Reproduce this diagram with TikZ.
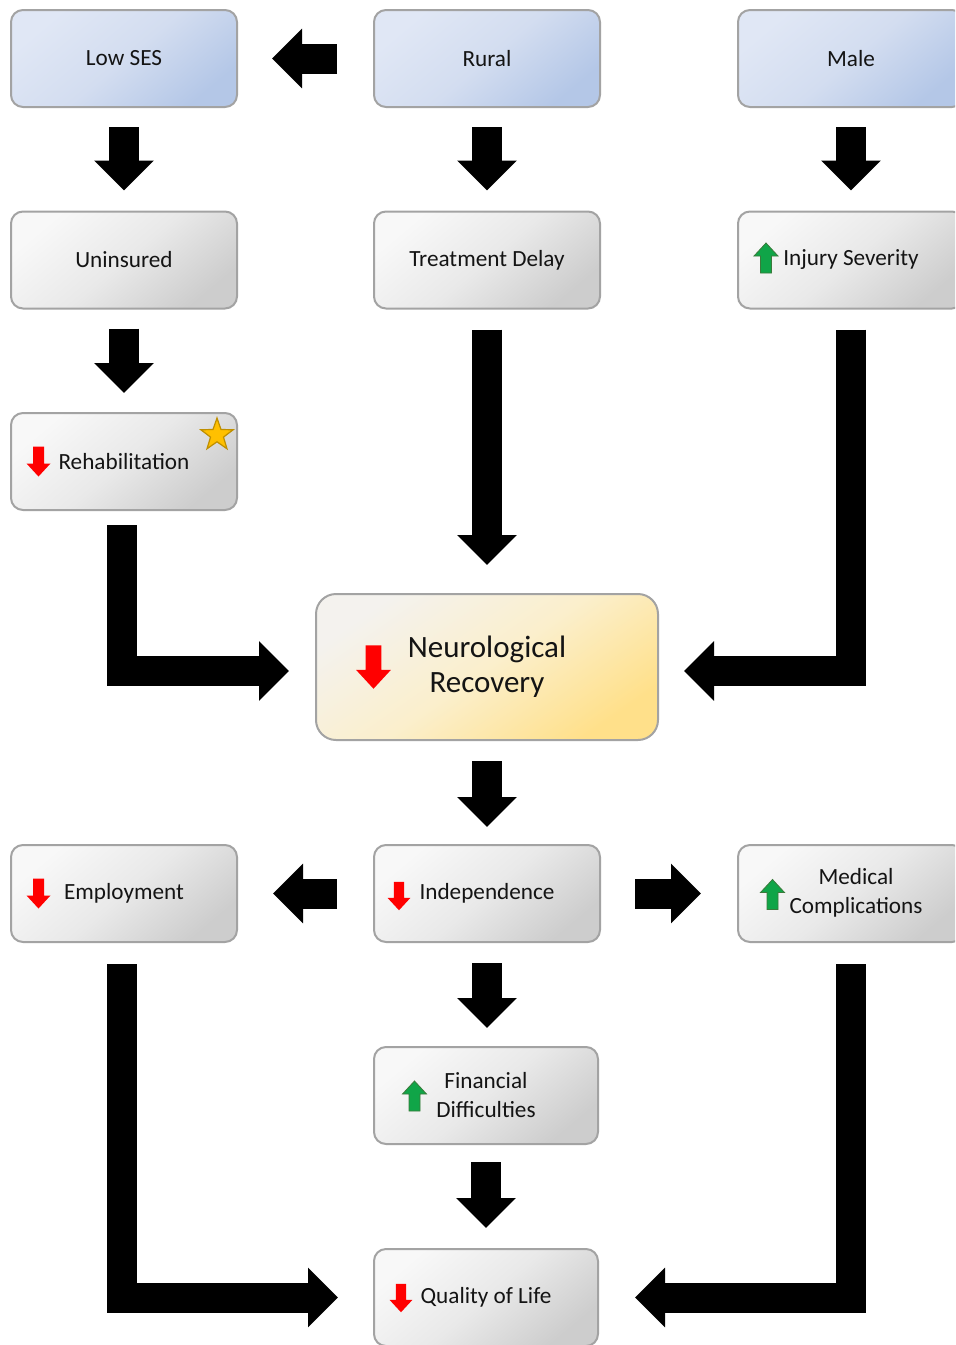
\documentclass[tikz,border=0pt]{standalone}
\usepackage{fontspec}
\setmainfont{Carlito}
\usetikzlibrary{arrows.meta,shapes.geometric,calc}
\definecolor{blueA}{HTML}{E0E7F5}
\definecolor{blueM}{HTML}{D3DDF0}
\definecolor{blueB}{HTML}{B4C7E7}
\definecolor{grayA}{HTML}{F8F8F8}
\definecolor{grayM}{HTML}{E9E9E9}
\definecolor{grayB}{HTML}{CDCDCD}
\definecolor{goldA}{HTML}{F4F2EE}
\definecolor{goldM}{HTML}{FBEFCC}
\definecolor{goldB}{HTML}{FFE08A}
\definecolor{boxline}{HTML}{A3A3A3}
\definecolor{arrred}{HTML}{FF0000}
\definecolor{arrgreen}{HTML}{10A548}
\definecolor{arrgreenline}{HTML}{3B7A3B}
\definecolor{starfill}{HTML}{FFC000}
\definecolor{starline}{HTML}{BF8F00}
\definecolor{txt}{HTML}{141414}
\begin{document}
\begin{tikzpicture}[x=0.5pt,y=-0.5pt,
  box/.style={draw=boxline, line width=1pt, rounded corners=6pt,
    minimum width=113pt, minimum height=48.5pt, inner sep=0pt,
    align=center, text=txt, font=\fontsize{11.6}{14.5}\selectfont,
    top color=grayA, bottom color=grayB, middle color=grayM, shading angle=40},
  bluebox/.style={box, top color=blueA, bottom color=blueB, middle color=blueM, shading angle=40},
  goldbox/.style={box, rounded corners=10pt, minimum width=171pt, minimum height=73pt,
    font=\fontsize{15.5}{17.5}\selectfont,
    top color=goldA, bottom color=goldB, middle color=goldM, shading angle=35},
  blk/.style={line width=15pt, line join=miter, draw=black,
    -{Triangle[length=15pt,width=29pt]}},
  dnarr/.pic={\fill[arrred] (-5.5,-15) -- (5.5,-15) -- (5.5,2) -- (12,2) -- (0,15) -- (-12,2) -- (-5.5,2) -- cycle;},
  uparr/.pic={\filldraw[fill=arrgreen, draw=arrgreenline, line width=0.4pt] (-5.5,15) -- (5.5,15) -- (5.5,-2) -- (12,-2) -- (0,-15) -- (-12,-2) -- (-5.5,-2) -- cycle;},
]
\useasboundingbox (0,0) rectangle (955,1345);
\clip (0,0) rectangle (955,1345);

% boxes
\node[bluebox] (lowses) at (124,58.5) {Low SES};
\node[bluebox] (rural) at (487,58.5) {Rural};
\node[bluebox] (male) at (851,58.5) {Male};
\node[box] (uninsured) at (124,260) {Uninsured};
\node[box] (delay) at (487,260) {Treatment Delay};
\node[box] (injury) at (851,260) {Injury Severity};
\node[box] (rehab) at (124,461.5) {Rehabilitation};
\node[goldbox] (neuro) at (487,667) {Neurological\\Recovery};
\node[box] (employ) at (124,893.5) {Employment};
\node[box] (indep) at (487,893.5) {Independence};
\node[box] (medical) at (851,893.5) {\hspace*{5pt}\begin{tabular}{@{}c@{}}Medical\\Complications\end{tabular}};
\node[box, minimum width=112pt] (fin) at (486,1095.5) {Financial\\Difficulties};
\node[box, minimum width=112pt] (quality) at (486,1297.5) {Quality of Life};

% star
\node[star, star points=5, star point ratio=2.5, fill=starfill, draw=starline,
  line width=0.6pt, minimum size=17pt, inner sep=0pt] (star) at (217,435) {};

% small indicator arrows
\pic at ($(rehab.west)+(28.5,0)$) {dnarr};
\pic at ($(injury.west)+(29,-2)$) {uparr};
\pic[scale=1.45] at ($(neuro.west)+(58.5,0)$) {dnarr};
\pic at ($(employ.west)+(28.5,0)$) {dnarr};
\pic[scale=0.95] at ($(indep.west)+(26,2.5)$) {dnarr};
\pic at ($(medical.west)+(35.5,1)$) {uparr};
\pic at ($(fin.west)+(41.5,0.5)$) {uparr};
\pic[scale=0.95] at ($(quality.west)+(28,0.5)$) {dnarr};

% block connectors
\draw[blk, shorten <=18pt, shorten >=17pt] (rural.west) -- (lowses.east);
\draw[blk, shorten <=9.5pt, shorten >=10pt] (lowses.south) -- (uninsured.north);
\draw[blk, shorten <=9.5pt, shorten >=10pt] (rural.south) -- (delay.north);
\draw[blk, shorten <=9.5pt, shorten >=10pt] (male.south) -- (injury.north);
\draw[blk, shorten <=9.5pt, shorten >=9.5pt] (uninsured.south) -- (rehab.north);
\draw[blk, shorten <=10pt, shorten >=14pt] (delay.south) -- (delay.south |- neuro.north);
\draw[blk, shorten <=7pt, shorten >=13pt] ([xshift=-1pt]rehab.south) |- ($(neuro.west)+(0,4)$);
\draw[blk, shorten <=10pt, shorten >=12.5pt] (injury.south) |- ($(neuro.east)+(0,4)$);
\draw[blk, shorten <=10pt, shorten >=8.5pt] (neuro.south) -- (indep.north);
\draw[blk, shorten <=18pt, shorten >=17.5pt] (indep.west) -- (employ.east);
\draw[blk, shorten <=17pt, shorten >=18pt] (indep.east) -- (medical.west);
\draw[blk, shorten <=10pt, shorten >=9pt] (indep.south) -- (indep.south |- fin.north);
\draw[blk, shorten <=8.5pt, shorten >=10pt] (fin.south) -- (quality.north);
\draw[blk, shorten <=10.5pt, shorten >=17.5pt] ([xshift=-1pt]employ.south) |- (quality.west);
\draw[blk, shorten <=10.5pt, shorten >=18pt] (medical.south) |- (quality.east);
\end{tikzpicture}
\end{document}
